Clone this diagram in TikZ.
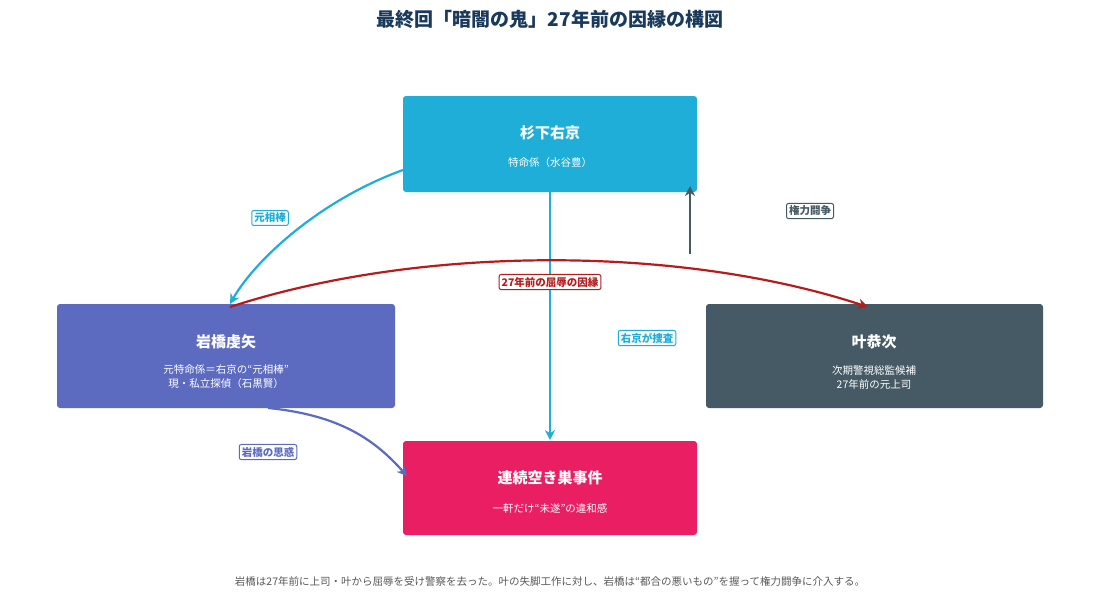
\documentclass[tikz,border=0pt]{standalone}
\usepackage{fontspec}
\setmainfont{Noto Sans CJK JP}
\usetikzlibrary{arrows.meta}
\definecolor{cblue}{HTML}{1EAED8}
\definecolor{cpurp}{HTML}{5C6BC0}
\definecolor{cgray}{HTML}{455A64}
\definecolor{cpink}{HTML}{E91E63}
\definecolor{cred}{HTML}{B71C1C}
\definecolor{ctitle}{HTML}{1A3A5C}
\begin{document}
\begin{tikzpicture}[x=1pt,y=-1pt,
  box/.style={rounded corners=3pt,draw=none},
  ttl/.style={text=white,font=\fontsize{15}{18}\selectfont\bfseries},
  sub/.style={text=white,font=\fontsize{10.5}{14}\selectfont,align=center},
  lbl/.style={fill=white,draw=#1,text=#1,rounded corners=2pt,line width=1pt,inner sep=2.5pt,font=\fontsize{10.5}{12}\selectfont\bfseries},
  arr/.style={draw=#1,line width=2.2pt,-{Stealth[length=10pt,width=10pt]}}]
\useasboundingbox (0,0) rectangle (1100,600);
\fill[white] (0,0) rectangle (1100,600);
\node[text=ctitle,font=\fontsize{19}{22}\selectfont\bfseries] (title) at (550,19) {最終回「暗闇の鬼」27年前の因縁の構図};
\fill[cblue,box] (403,96) rectangle (697,192);
\fill[cpurp,box] (57,304) rectangle (395,408);
\fill[cgray,box] (706,304) rectangle (1043,408);
\fill[cpink,box] (403,441) rectangle (697,535);
\node[ttl] (u1) at (550,133) {杉下右京};
\node[sub] (u2) at (550,163) {特命係（水谷豊）};
\node[ttl] (i1) at (226,342) {岩橋虔矢};
\node[sub] (i2) at (226,377) {元特命係＝右京の“元相棒”\\現・私立探偵（石黒賢）};
\node[ttl] (k1) at (874,342) {叶恭次};
\node[sub] (k2) at (874,377) {次期警視総監候補\\27年前の元上司};
\node[ttl] (r1) at (550,478) {連続空き巣事件};
\node[sub] (r2) at (550,508) {一軒だけ“未遂”の違和感};
\coordinate (a1s) at (403,170); \coordinate (a1e) at (230,304);
\draw[arr=cblue] (a1s) .. controls (320,200) and (255,260) .. (a1e);
\coordinate (a2s) at (550,192); \coordinate (a2e) at (550,440);
\draw[arr=cblue] (a2s) -- (a2e);
\coordinate (a3s) at (690,254); \coordinate (a3e) at (690,186);
\draw[arr=cgray] (a3s) -- (a3e);
\coordinate (a4s) at (230,307); \coordinate (a4e) at (868,307);
\draw[arr=cred] (a4s) .. controls (420,245) and (680,245) .. (a4e);
\coordinate (a5s) at (268,408); \coordinate (a5e) at (407,476);
\draw[arr=cpurp] (a5s) .. controls (340,415) and (375,440) .. (a5e);
\node[lbl=cblue] (l1) at (270,218) {元相棒};
\node[lbl=cblue] (l2) at (647,338) {右京が捜査};
\node[lbl=cgray] (l3) at (810,211) {権力闘争};
\node[lbl=cred] (l4) at (550,282) {27年前の屈辱の因縁};
\node[lbl=cpurp] (l5) at (268,452) {岩橋の思惑};
\node[text=black!65,font=\fontsize{10.5}{12}\selectfont] (foot) at (550,582) {岩橋は27年前に上司・叶から屈辱を受け警察を去った。叶の失脚工作に対し、岩橋は“都合の悪いもの”を握って権力闘争に介入する。};
\end{tikzpicture}
\end{document}
